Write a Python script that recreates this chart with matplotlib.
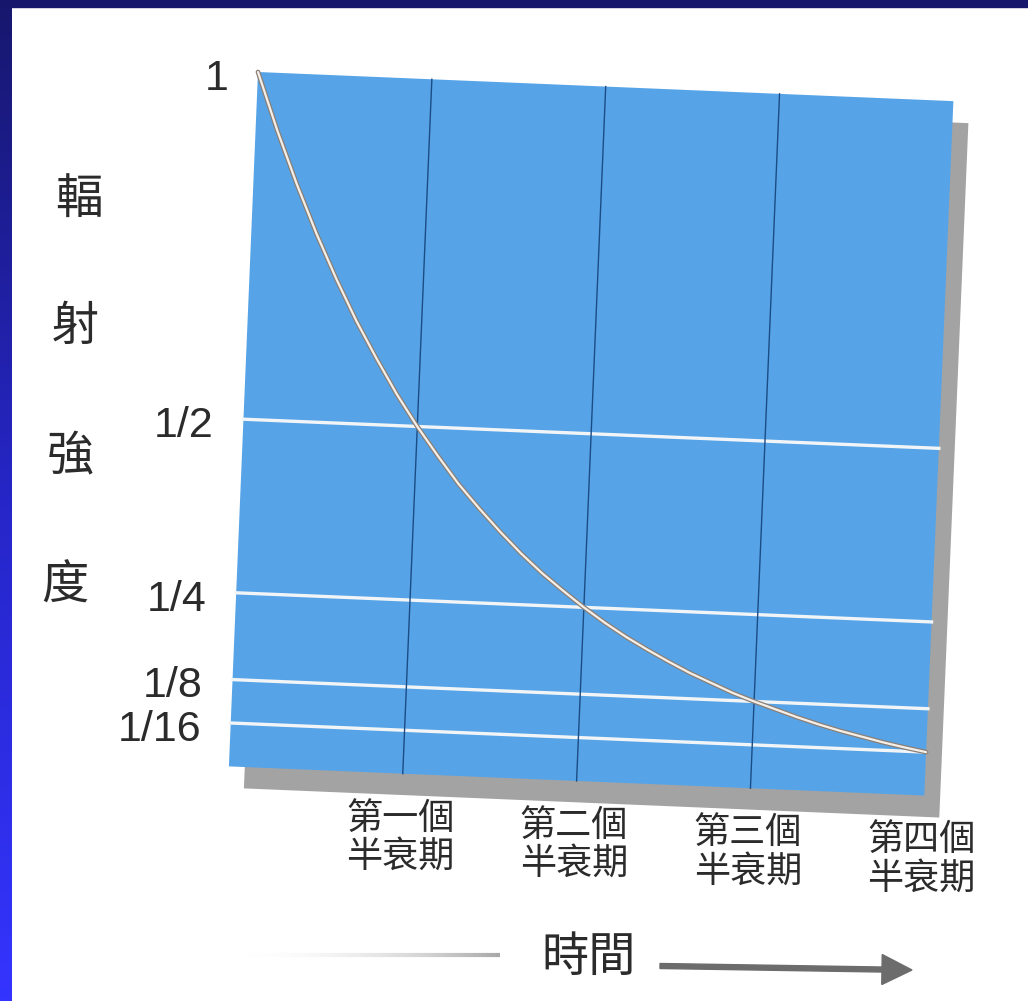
import numpy as np
import matplotlib
matplotlib.use("Agg")
import matplotlib.pyplot as plt
import matplotlib.patheffects as pe
from matplotlib.patches import Rectangle, FancyArrow
from matplotlib.transforms import Affine2D
from matplotlib.collections import LineCollection
from matplotlib.colors import LinearSegmentedColormap, to_rgba

# values
half_lives = [0, 1, 2, 3, 4]
t_curve = [0, 0.125, 0.25, 0.375, 0.5, 0.625, 0.75, 0.875, 1, 1.125, 1.25, 1.375,
           1.5, 1.625, 1.75, 1.875, 2, 2.125, 2.25, 2.375, 2.5, 2.625, 2.75,
           2.875, 3, 3.125, 3.25, 3.375, 3.5, 3.625, 3.75, 3.875, 4]
intensity = [1.0, 0.917, 0.841, 0.771, 0.707, 0.648, 0.595, 0.545, 0.5, 0.459,
             0.42, 0.386, 0.354, 0.324, 0.297, 0.273, 0.25, 0.229, 0.21, 0.193,
             0.177, 0.162, 0.149, 0.136, 0.125, 0.115, 0.105, 0.096, 0.088,
             0.081, 0.074, 0.068, 0.0625]
level_values = [1, 1 / 2, 1 / 4, 1 / 8, 1 / 16]
level_labels = ["1", "1/2", "1/4", "1/8", "1/16"]
period_labels = ["第一個\n半衰期", "第二個\n半衰期", "第三個\n半衰期", "第四個\n半衰期"]
y_title_chars = ["輻", "射", "強", "度"]
x_title = "時間"

CJK = ["Noto Sans CJK TC", "DejaVu Sans"]
TEXT = "#2b2b2b"

W, H = 1028, 1001
fig = plt.figure(figsize=(W / 100, H / 100), dpi=100)
fig.patch.set_facecolor("white")

# background layer in pixel coordinates (slide frame, titles, arrow)
bg = fig.add_axes([0, 0, 1, 1])
frame_cmap = LinearSegmentedColormap.from_list("frame", ["#17176e", "#2626c8", "#3434ff"])
bg.imshow(np.linspace(0, 1, 256).reshape(-1, 1), cmap=frame_cmap,
          extent=(0, 12, H, 0), aspect="auto", zorder=1)
bg.add_patch(Rectangle((0, 0), W, 7, color="#16166c", zorder=2))
bg.set_xlim(0, W)
bg.set_ylim(H, 0)
bg.axis("off")

y_title_pos = [(79, 201), (75, 327), (70, 457), (65, 586)]
for ch, (x, y) in zip(y_title_chars, y_title_pos):
    bg.text(x, y, ch, ha="center", va="center", fontsize=34, family=CJK, color=TEXT)

bg.text(589, 958, x_title, ha="center", va="center", fontsize=34, family=CJK, color=TEXT)

# faint line left of the title, fading out to the left
xs = np.linspace(235, 500, 60)
segs = [[(xs[i], 955), (xs[i + 1], 955)] for i in range(len(xs) - 1)]
fade = [to_rgba("#a0a0a0", a) for a in np.linspace(0.0, 0.95, len(segs)) ** 2]
bg.add_collection(LineCollection(segs, colors=fade, linewidths=3))

bg.add_patch(FancyArrow(660, 966, 252, 4, width=5, head_width=30, head_length=30,
                        length_includes_head=True, color="#6c6c6c", zorder=3))

# chart area, tilted slightly like the scanned page
x0, y0 = 258, 72
pw, ph = 696, 695
ax = fig.add_axes([x0 / W, (H - y0 - ph) / H, pw / W, ph / H])
ax.set_xlim(0, 4)
ax.set_ylim(0, 1)
ax.axis("off")
tilt = Affine2D().rotate_deg_around(x0, H - y0, -2.4)
tr = ax.transData + tilt

ax.add_patch(Rectangle((0, 0), 4, 1, transform=tr + Affine2D().translate(15, -22),
                       facecolor="#a3a3a3", edgecolor="none", clip_on=False, zorder=1))
ax.add_patch(Rectangle((0, 0), 4, 1, transform=tr, facecolor="#56a4e7",
                       edgecolor="none", clip_on=False, zorder=2))

for v in level_values[1:]:
    ax.plot([0, 4], [v, v], transform=tr, color="#f2f5f7", lw=2.4,
            clip_on=False, zorder=3)
for t in half_lives[1:4]:
    ax.plot([t, t], [0, 1], transform=tr, color="#1b4c85", lw=1.0,
            clip_on=False, zorder=3)

ax.plot(t_curve, intensity, transform=tr, color="#f4efe8", lw=1.6, clip_on=False,
        zorder=5, solid_capstyle="round", solid_joinstyle="round",
        path_effects=[pe.Stroke(linewidth=3.4, foreground="#8a7f76"), pe.Normal()])

label_tr = tr + Affine2D().translate(0, -8)
for v, lab in zip(level_values, level_labels):
    ax.text(-0.17, v, lab, transform=label_tr, ha="right", va="center",
            fontsize=31, family="Liberation Sans", color=TEXT)

for t, lab in zip(half_lives[1:], period_labels):
    ax.text(t, -0.092, lab, transform=tr, ha="center", va="center", fontsize=26,
            family=CJK, color=TEXT, linespacing=1.08, clip_on=False)

fig.savefig("out.png", dpi=100)
